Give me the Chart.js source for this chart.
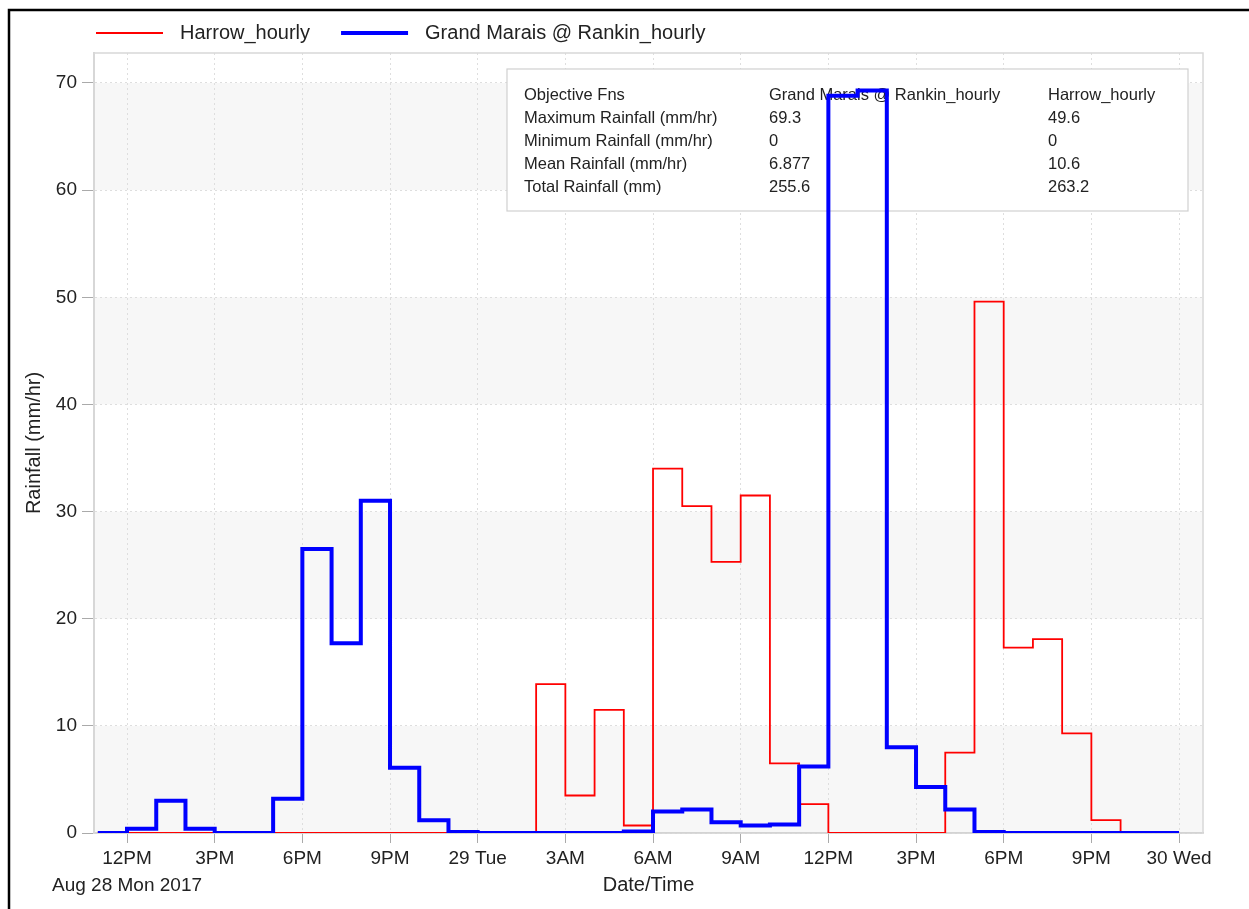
<!DOCTYPE html>
<html>
<head>
	<meta charset="UTF-8">
	<title>rainfall</title>
	<script src="https://cdn.jsdelivr.net/npm/chart.js"></script>
	<style>
	html, body { margin:0; padding:0; background:#fff; }
	#wrap { width:1249px; height:909px; }
	</style>
</head>
<body>
<div id="wrap"><canvas id="myChart" width="1249" height="909"></canvas></div>
<script>
// hour of the step start, counted from Aug 28 2017 00:00
const hours = [11,12,13,14,15,16,17,18,19,20,21,22,23,24,25,26,27,28,29,30,
	31,32,33,34,35,36,37,38,39,40,41,42,43,44,45,46,47,48];
// hourly rainfall (mm/hr)
const grandMarais = [0,0.4,3.0,0.4,0,0,3.2,26.5,17.7,31.0,6.1,1.2,0.1,0,0,0,0,0,0.15,2.0,
	2.2,1.0,0.7,0.8,6.2,68.8,69.3,8.0,4.3,2.2,0.1,0,0,0,0,0,0,0];
const harrow = [0,0,0,0,0,0,0,0,0,0,0,0,0,0,0,13.9,3.5,11.5,0.7,34.0,
	30.5,25.3,31.5,6.5,2.7,0,0,0,0,7.5,49.6,17.3,18.1,9.3,1.2,0,0,0];

const tickHours = [12,15,18,21,24,27,30,33,36,39,42,45,48];
const tickLabels = ['12PM','3PM','6PM','9PM','29 Tue','3AM','6AM','9AM','12PM','3PM','6PM','9PM','30 Wed'];
const dateLabel = 'Aug 28 Mon 2017';
const xMin = 10.87, xMax = 48.82;
const yTicks = [0,10,20,30,40,50,60,70];
const bandRanges = [[0,10],[20,30],[40,50],[60,70]];

const statHeader = ['Objective Fns','Grand Marais @ Rankin_hourly','Harrow_hourly'];
const statNames = ['Maximum Rainfall (mm/hr)','Minimum Rainfall (mm/hr)','Mean Rainfall (mm/hr)','Total Rainfall (mm)'];
const statGrandMarais = ['69.3','0','6.877','255.6'];
const statHarrow = ['49.6','0','10.6','263.2'];

const FONT = 'Arial, "Liberation Sans", sans-serif';
const TXT = '#222';

// page background, outer frame, grey bands
const backdrop = {
	id: 'backdrop',
	beforeDraw(chart) {
		const ctx = chart.ctx, a = chart.chartArea, y = chart.scales.y;
		ctx.save();
		ctx.fillStyle = '#fff';
		ctx.fillRect(0, 0, chart.width, chart.height);
		ctx.strokeStyle = '#000';
		ctx.lineWidth = 2.5;
		ctx.strokeRect(9, 10, chart.width + 20, chart.height + 20);
		ctx.fillStyle = '#f7f7f7';
		bandRanges.forEach(r => {
			const top = y.getPixelForValue(r[1]), bot = y.getPixelForValue(r[0]);
			ctx.fillRect(a.left, top, a.right - a.left, bot - top);
		});
		ctx.restore();
	}
};

// stats box + plot frame (under the lines)
const statBox = {
	id: 'statBox',
	beforeDatasetsDraw(chart) {
		const ctx = chart.ctx, a = chart.chartArea;
		ctx.save();
		ctx.strokeStyle = '#d8d8d8';
		ctx.lineWidth = 1.5;
		ctx.strokeRect(a.left, a.top, a.right - a.left, a.bottom - a.top);

		const bx = 507, by = 69, bw = 681, bh = 142;
		ctx.fillStyle = '#fff';
		ctx.fillRect(bx, by, bw, bh);
		ctx.strokeStyle = '#d0d0d0';
		ctx.lineWidth = 1.2;
		ctx.strokeRect(bx, by, bw, bh);

		ctx.fillStyle = TXT;
		ctx.font = '16.5px ' + FONT;
		ctx.textBaseline = 'alphabetic';
		const cols = [524, 769, 1048];
		statHeader.forEach((t, i) => ctx.fillText(t, cols[i], 99.5));
		statNames.forEach((t, i) => {
			const yy = 99.5 + 23 * (i + 1);
			ctx.fillText(t, cols[0], yy);
			ctx.fillText(statGrandMarais[i], cols[1], yy);
			ctx.fillText(statHarrow[i], cols[2], yy);
		});
		ctx.restore();
	}
};

// legend on top, line samples
const topLegend = {
	id: 'topLegend',
	afterDraw(chart) {
		const ctx = chart.ctx;
		let x = 96; const y = 33;
		ctx.save();
		ctx.font = '20px ' + FONT;
		ctx.textBaseline = 'middle';
		chart.data.datasets.forEach(ds => {
			ctx.strokeStyle = ds.borderColor;
			ctx.lineWidth = ds.borderWidth;
			ctx.beginPath();
			ctx.moveTo(x, y);
			ctx.lineTo(x + 67, y);
			ctx.stroke();
			ctx.fillStyle = TXT;
			ctx.fillText(ds.label, x + 84, y);
			x += 84 + ctx.measureText(ds.label).width + 31;
		});
		ctx.restore();
	}
};

const ctx = document.getElementById('myChart');
new Chart(ctx, {
	type: 'line',
	data: {
		datasets: [{
			label: 'Harrow_hourly',
			data: hours.map((h, i) => ({x: h, y: harrow[i]})),
			borderColor: '#ff0000',
			borderWidth: 1.8,
			stepped: true,
			pointRadius: 0,
			fill: false,
			order: 2
		}, {
			label: 'Grand Marais @ Rankin_hourly',
			data: hours.map((h, i) => ({x: h, y: grandMarais[i]})),
			borderColor: '#0000ff',
			borderWidth: 4,
			stepped: true,
			pointRadius: 0,
			fill: false,
			order: 1
		}]
	},
	options: {
		responsive: false,
		animation: false,
		devicePixelRatio: 1,
		layout: { padding: { top: 53, right: 46, left: 0, bottom: 0 } },
		plugins: {
			legend: { display: false },
			tooltip: { enabled: false }
		},
		scales: {
			x: {
				type: 'linear',
				min: xMin,
				max: xMax,
				afterBuildTicks: s => { s.ticks = tickHours.map(v => ({value: v})); },
				afterFit: s => { s.height = 76; },
				ticks: {
					autoSkip: false,
					maxRotation: 0,
					padding: 2,
					color: TXT,
					font: { size: 19, family: FONT, lineHeight: 1.42 },
					callback: (v, i) => i === 0 ? [tickLabels[0], dateLabel] : tickLabels[i]
				},
				grid: { color: '#dedede', tickColor: '#aaa', tickLength: 10 },
				border: { color: '#c4c4c4', width: 1.5, dash: [2, 3] },
				title: {
					display: true, text: 'Date/Time', color: TXT,
					font: { size: 20, family: FONT },
					padding: { top: 0, bottom: 12 }
				}
			},
			y: {
				min: 0,
				max: 72.8,
				afterBuildTicks: s => { s.ticks = yTicks.map(v => ({value: v})); },
				afterFit: s => { s.width = 94; },
				ticks: {
					padding: 5,
					color: TXT,
					font: { size: 19, family: FONT }
				},
				grid: { color: '#dedede', tickColor: '#aaa', tickLength: 12 },
				border: { color: '#d6d6d6', width: 2, dash: [2, 3] },
				title: {
					display: true, text: 'Rainfall (mm/hr)', color: TXT,
					font: { size: 20, family: FONT },
					padding: { top: 22, bottom: 0 }
				}
			}
		}
	},
	plugins: [backdrop, statBox, topLegend]
});
</script>
</body>
</html>
